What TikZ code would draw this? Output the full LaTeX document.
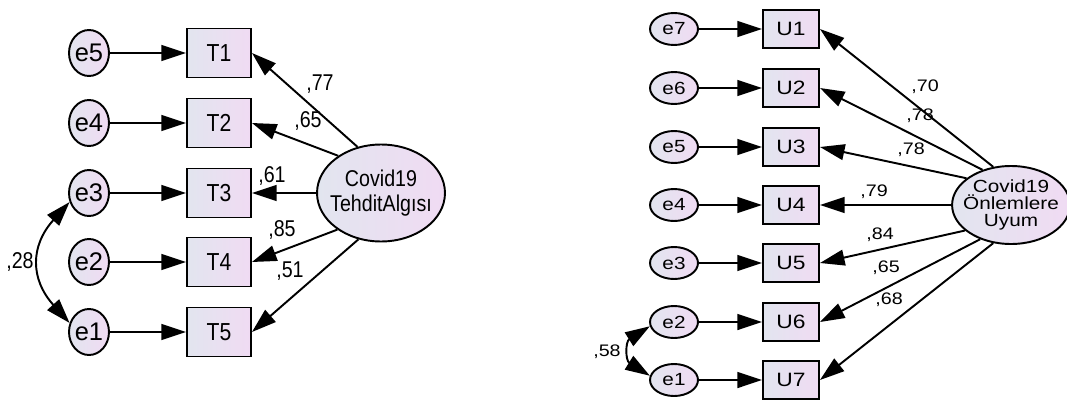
\documentclass[tikz,border=0pt]{standalone}
\usepackage{fontspec}
\setmainfont{Liberation Sans}
\newfontfamily\condFont[FakeStretch=0.86]{Liberation Sans}
\newfontfamily\wideFont[FakeStretch=1.18]{Liberation Sans}
\usetikzlibrary{shapes.geometric}
\usetikzlibrary{arrows.meta}

\definecolor{shadeBlue}{RGB}{226,229,239}
\definecolor{shadePink}{RGB}{240,219,243}

\begin{document}
\begin{tikzpicture}[x=0.02cm,y=-0.02cm,
        line width=1.1pt,
        >={Triangle[length=14pt,width=9pt]},
        errNode/.style = {shape=ellipse,draw=black,left color=shadeBlue,right color=shadePink,inner sep=0pt},
        itemBox/.style = {shape=rectangle,draw=black,left color=shadeBlue,right color=shadePink,inner sep=0pt},
        factorNode/.style = {shape=ellipse,draw=black,left color=shadeBlue,right color=shadePink,align=center},
        leftErr/.style = {errNode,inner xsep=-2pt,minimum width=0.8cm,minimum height=0.92cm,font=\fontsize{14.5}{15}\selectfont},
        leftBox/.style = {itemBox,minimum width=1.28cm,minimum height=0.98cm,font=\condFont\fontsize{14}{15}\selectfont},
        rightErr/.style = {errNode,minimum width=0.96cm,minimum height=0.64cm,font=\wideFont\fontsize{10}{12}\selectfont},
        rightBox/.style = {itemBox,minimum width=1.12cm,minimum height=0.76cm,font=\wideFont\fontsize{11}{13}\selectfont},
        leftLbl/.style = {font=\condFont\fontsize{13}{14}\selectfont,inner sep=0pt},
        rightLbl/.style = {font=\wideFont\fontsize{9.5}{11}\selectfont,inner sep=0pt}
        ]
        \useasboundingbox (0,0) rectangle (1067,399);

        % left model
        \node[factorNode,inner xsep=-4pt,inner ysep=-1pt,minimum width=2.56cm,minimum height=1.94cm,font=\condFont\fontsize{13}{14.5}\selectfont] (covT) at (381,193) {Covid19\\TehditAlgısı};
        \foreach \i/\e/\y in {1/5/53,2/4/123,3/3/193,4/2/262,5/1/332} {
            \node[leftErr] (le\e) at (89,\y) {e\e};
            \node[leftBox] (T\i) at (219,\y) {T\i};
            \draw[->] (le\e) -- (T\i);
        }
        \draw[->] (covT.117) -- (T1.east);
        \draw[->] (covT.139) -- (T2.east);
        \draw[->] (covT.180) -- (T3.east);
        \draw[->] (covT.220) -- (T4.east);
        \draw[->] (covT.244) -- (T5.east);
        \draw[<->] (le3.205) to[out=228,in=132,looseness=1.25] (le1.155);
        \node[leftLbl] (lblT1) at (320,84) {,77};
        \node[leftLbl] (lblT2) at (308,121) {,65};
        \node[leftLbl] (lblT3) at (272,176) {,61};
        \node[leftLbl] (lblT4) at (282,230) {,85};
        \node[leftLbl] (lblT5) at (290,271) {,51};
        \node[leftLbl] (lblCovT) at (20,262) {,28};

        % right model
        \node[factorNode,inner xsep=-3.5pt,inner ysep=-0.5pt,minimum width=2.2cm,minimum height=1.56cm,font=\wideFont\fontsize{10}{9.6}\selectfont] (covU) at (1011,205) {Covid19\\Önlemlere\\Uyum};
        \foreach \i/\e/\y in {1/7/29,2/6/88,3/5/147,4/4/205,5/3/263,6/2/322,7/1/380} {
            \node[rightErr] (re\e) at (674,\y) {e\e};
            \node[rightBox] (U\i) at (791,\y) {U\i};
            \draw[->] (re\e) -- (U\i);
        }
        \draw[->] (covU.115) -- (U1.east);
        \draw[->] (covU.129) -- (U2.east);
        \draw[->] (covU.149) -- (U3.east);
        \draw[->] (covU.180) -- (U4.east);
        \draw[->] (covU.209) -- (U5.east);
        \draw[->] (covU.228) -- (U6.east);
        \draw[->] (covU.245) -- (U7.east);
        \draw[<->] (re2.190) to[out=212,in=148,looseness=1.5] (re1.170);
        \node[rightLbl] (lblU1) at (925,87) {,70};
        \node[rightLbl] (lblU2) at (920,116) {,78};
        \node[rightLbl] (lblU3) at (911,150) {,78};
        \node[rightLbl] (lblU4) at (874,192) {,79};
        \node[rightLbl] (lblU5) at (880,235) {,84};
        \node[rightLbl] (lblU6) at (886,268) {,65};
        \node[rightLbl] (lblU7) at (889,300) {,68};
        \node[rightLbl] (lblCovU) at (607,352) {,58};
    \end{tikzpicture}
\end{document}
